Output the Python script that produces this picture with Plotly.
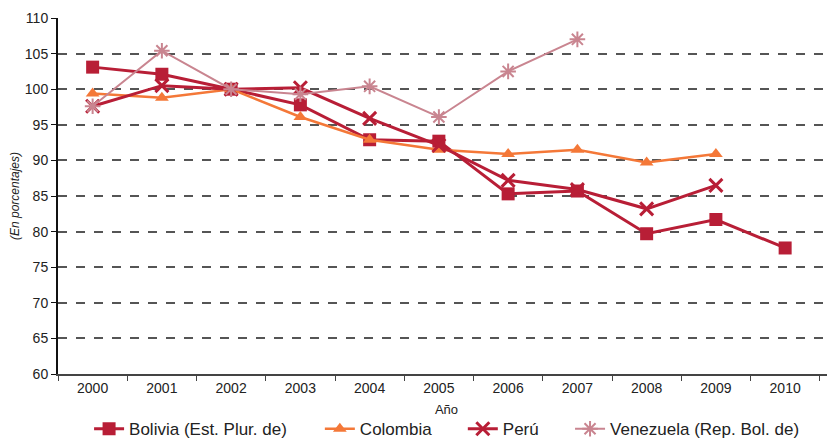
import plotly.graph_objects as go

years = ["2000", "2001", "2002", "2003", "2004", "2005", "2006", "2007", "2008", "2009", "2010"]
bolivia = [103.1, 102.1, 100.0, 97.8, 92.9, 92.7, 85.3, 85.7, 79.7, 81.7, 77.7]
colombia = [99.4, 98.8, 100.0, 96.1, 92.9, 91.5, 90.9, 91.5, 89.7, 90.9]
peru = [97.6, 100.5, 100.0, 100.2, 95.9, 92.1, 87.2, 85.9, 83.2, 86.5]
venezuela = [97.6, 105.4, 100.0, 99.3, 100.4, 96.1, 102.5, 107.0]

FONT = "Liberation Sans, Arial, sans-serif"

fig = go.Figure()
fig.add_trace(go.Scatter(
    x=years[:len(bolivia)], y=bolivia, mode="lines+markers", name="Bolivia (Est. Plur. de)",
    line=dict(color="#B81E36", width=3), marker=dict(symbol="square", size=13, color="#B81E36"),
    legend="legend"))
fig.add_trace(go.Scatter(
    x=years[:len(colombia)], y=colombia, mode="lines+markers", name="Colombia",
    line=dict(color="#F47838", width=2.5), marker=dict(symbol="triangle-up", size=12, color="#F47838"),
    legend="legend2"))
fig.add_trace(go.Scatter(
    x=years[:len(peru)], y=peru, mode="lines+markers", name="Perú",
    line=dict(color="#B81E36", width=3),
    marker=dict(symbol="x-thin", size=13, color="#B81E36", line=dict(color="#B81E36", width=3)),
    legend="legend3"))
fig.add_trace(go.Scatter(
    x=years[:len(venezuela)], y=venezuela, mode="lines+markers", name="Venezuela (Rep. Bol. de)",
    line=dict(color="#C98590", width=2),
    marker=dict(symbol="asterisk", size=13, color="#C98590", line=dict(color="#C98590", width=2)),
    legend="legend4"))


def leg(x):
    return dict(orientation="h", x=x, xanchor="left", y=-0.155, yanchor="middle",
                font=dict(size=17, color="#222"), itemwidth=30, bgcolor="rgba(0,0,0,0)")


# the page body adds 8px around the figure, so margins are shifted by 8
fig.update_layout(
    width=835, height=445,
    margin=dict(l=50, r=8, t=10, b=79, autoexpand=False),
    plot_bgcolor="white", paper_bgcolor="white",
    font=dict(family=FONT, size=14, color="#222"),
    showlegend=True,
    legend=leg(0.040), legend2=leg(0.337), legend3=leg(0.521), legend4=leg(0.659),
    xaxis=dict(
        type="category", range=[-0.5, 10.72],
        showline=True, linecolor="#444", linewidth=2,
        ticks="outside", ticklen=5, tickcolor="#444", tickson="boundaries",
        showgrid=False, tickfont=dict(size=14),
        title=dict(text="Año", font=dict(size=13), standoff=10)),
    yaxis=dict(
        range=[60, 110], tick0=60, dtick=5,
        showline=True, linecolor="#111", linewidth=2,
        ticks="outside", ticklen=5, tickcolor="#111",
        showgrid=True, gridcolor="#555", griddash="dash", gridwidth=1.5,
        zeroline=False, tickfont=dict(size=14), ticklabeloverflow="allow",
        title=dict(text="<i>(En porcentajes)</i>", font=dict(size=12), standoff=14)),
)

fig.write_html("out.html")
